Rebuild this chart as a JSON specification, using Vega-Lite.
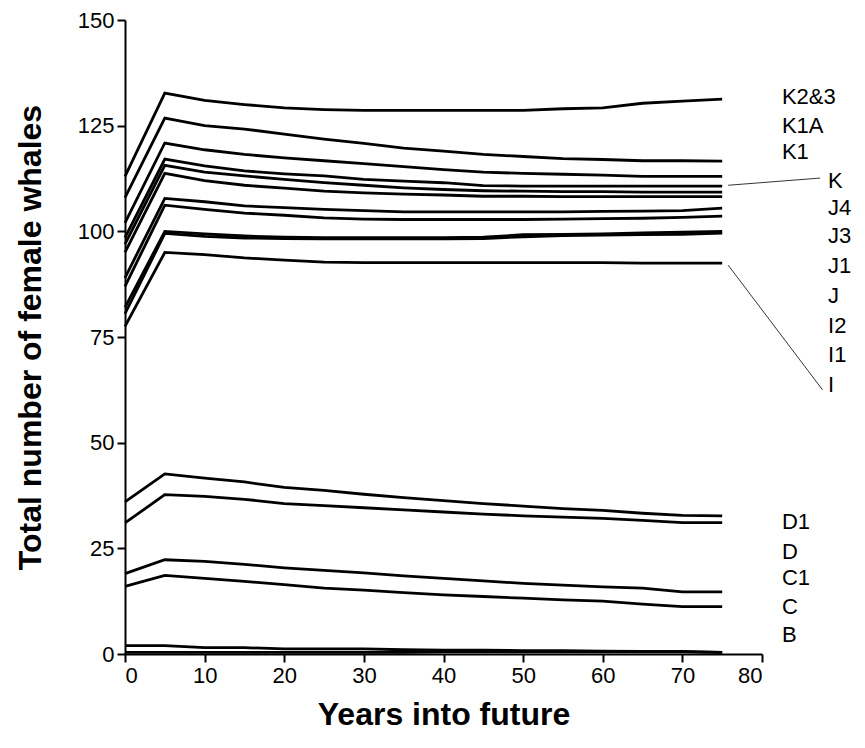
{
"$schema":"https://vega.github.io/schema/vega-lite/v6.json",
"width":637,"height":634,
"autosize":{"type":"none"},
"padding":{"left":125,"top":20,"right":103,"bottom":94},
"background":"white",
"config":{"view":{"stroke":null},
"axis":{"grid":false,"domainColor":"black","domainWidth":2,"tickColor":"black","tickWidth":2,"tickSize":8,"labelColor":"black","labelFont":"Liberation Sans","labelFontSize":22,"labelPadding":3,"titleFont":"Liberation Sans","titleFontWeight":"bold","titleFontSize":32,"titleColor":"black"}},
"datasets":{
"series":[
{"s":"K2&3","t":0,"v":113},{"s":"K2&3","t":5,"v":132.7},{"s":"K2&3","t":10,"v":131},{"s":"K2&3","t":15,"v":130},{"s":"K2&3","t":20,"v":129.2},{"s":"K2&3","t":25,"v":128.8},{"s":"K2&3","t":30,"v":128.6},{"s":"K2&3","t":35,"v":128.6},{"s":"K2&3","t":40,"v":128.6},{"s":"K2&3","t":45,"v":128.6},{"s":"K2&3","t":50,"v":128.6},{"s":"K2&3","t":55,"v":129},{"s":"K2&3","t":60,"v":129.2},{"s":"K2&3","t":65,"v":130.3},{"s":"K2&3","t":70,"v":130.8},{"s":"K2&3","t":75,"v":131.3},
{"s":"K1A","t":0,"v":108},{"s":"K1A","t":5,"v":126.8},{"s":"K1A","t":10,"v":125},{"s":"K1A","t":15,"v":124.2},{"s":"K1A","t":20,"v":123},{"s":"K1A","t":25,"v":121.8},{"s":"K1A","t":30,"v":120.8},{"s":"K1A","t":35,"v":119.7},{"s":"K1A","t":40,"v":119},{"s":"K1A","t":45,"v":118.2},{"s":"K1A","t":50,"v":117.7},{"s":"K1A","t":55,"v":117.2},{"s":"K1A","t":60,"v":117},{"s":"K1A","t":65,"v":116.7},{"s":"K1A","t":70,"v":116.7},{"s":"K1A","t":75,"v":116.6},
{"s":"K1","t":0,"v":102},{"s":"K1","t":5,"v":120.9},{"s":"K1","t":10,"v":119.3},{"s":"K1","t":15,"v":118.2},{"s":"K1","t":20,"v":117.4},{"s":"K1","t":25,"v":116.7},{"s":"K1","t":30,"v":116},{"s":"K1","t":35,"v":115.3},{"s":"K1","t":40,"v":114.6},{"s":"K1","t":45,"v":114},{"s":"K1","t":50,"v":113.7},{"s":"K1","t":55,"v":113.5},{"s":"K1","t":60,"v":113.3},{"s":"K1","t":65,"v":113},{"s":"K1","t":70,"v":113},{"s":"K1","t":75,"v":113},
{"s":"K","t":0,"v":98.5},{"s":"K","t":5,"v":117.1},{"s":"K","t":10,"v":115.5},{"s":"K","t":15,"v":114.3},{"s":"K","t":20,"v":113.6},{"s":"K","t":25,"v":113.1},{"s":"K","t":30,"v":112.3},{"s":"K","t":35,"v":111.9},{"s":"K","t":40,"v":111.5},{"s":"K","t":45,"v":110.8},{"s":"K","t":50,"v":110.7},{"s":"K","t":55,"v":110.7},{"s":"K","t":60,"v":110.7},{"s":"K","t":65,"v":110.7},{"s":"K","t":70,"v":110.7},{"s":"K","t":75,"v":110.7},
{"s":"J4","t":0,"v":97},{"s":"J4","t":5,"v":115.6},{"s":"J4","t":10,"v":114},{"s":"J4","t":15,"v":113.1},{"s":"J4","t":20,"v":112.3},{"s":"J4","t":25,"v":111.5},{"s":"J4","t":30,"v":110.9},{"s":"J4","t":35,"v":110.3},{"s":"J4","t":40,"v":109.9},{"s":"J4","t":45,"v":109.6},{"s":"J4","t":50,"v":109.5},{"s":"J4","t":55,"v":109.4},{"s":"J4","t":60,"v":109.4},{"s":"J4","t":65,"v":109.3},{"s":"J4","t":70,"v":109.3},{"s":"J4","t":75,"v":109.3},
{"s":"J3","t":0,"v":95},{"s":"J3","t":5,"v":113.7},{"s":"J3","t":10,"v":112},{"s":"J3","t":15,"v":110.9},{"s":"J3","t":20,"v":110.2},{"s":"J3","t":25,"v":109.5},{"s":"J3","t":30,"v":109.1},{"s":"J3","t":35,"v":108.8},{"s":"J3","t":40,"v":108.6},{"s":"J3","t":45,"v":108.3},{"s":"J3","t":50,"v":108.3},{"s":"J3","t":55,"v":108.2},{"s":"J3","t":60,"v":108.2},{"s":"J3","t":65,"v":108.2},{"s":"J3","t":70,"v":108.2},{"s":"J3","t":75,"v":108.2},
{"s":"J1","t":0,"v":89},{"s":"J1","t":5,"v":107.8},{"s":"J1","t":10,"v":107},{"s":"J1","t":15,"v":106},{"s":"J1","t":20,"v":105.6},{"s":"J1","t":25,"v":105.2},{"s":"J1","t":30,"v":104.9},{"s":"J1","t":35,"v":104.6},{"s":"J1","t":40,"v":104.6},{"s":"J1","t":45,"v":104.6},{"s":"J1","t":50,"v":104.6},{"s":"J1","t":55,"v":104.6},{"s":"J1","t":60,"v":104.7},{"s":"J1","t":65,"v":104.8},{"s":"J1","t":70,"v":104.9},{"s":"J1","t":75,"v":105.5},
{"s":"J","t":0,"v":87},{"s":"J","t":5,"v":106.2},{"s":"J","t":10,"v":105.2},{"s":"J","t":15,"v":104.3},{"s":"J","t":20,"v":103.8},{"s":"J","t":25,"v":103.2},{"s":"J","t":30,"v":102.9},{"s":"J","t":35,"v":102.8},{"s":"J","t":40,"v":102.8},{"s":"J","t":45,"v":102.8},{"s":"J","t":50,"v":102.8},{"s":"J","t":55,"v":102.9},{"s":"J","t":60,"v":103},{"s":"J","t":65,"v":103.1},{"s":"J","t":70,"v":103.3},{"s":"J","t":75,"v":103.6},
{"s":"I2","t":0,"v":82},{"s":"I2","t":5,"v":100},{"s":"I2","t":10,"v":99.4},{"s":"I2","t":15,"v":98.9},{"s":"I2","t":20,"v":98.6},{"s":"I2","t":25,"v":98.5},{"s":"I2","t":30,"v":98.5},{"s":"I2","t":35,"v":98.5},{"s":"I2","t":40,"v":98.5},{"s":"I2","t":45,"v":98.6},{"s":"I2","t":50,"v":99.2},{"s":"I2","t":55,"v":99.3},{"s":"I2","t":60,"v":99.4},{"s":"I2","t":65,"v":99.6},{"s":"I2","t":70,"v":99.8},{"s":"I2","t":75,"v":100},
{"s":"I1","t":0,"v":80.5},{"s":"I1","t":5,"v":99.5},{"s":"I1","t":10,"v":98.8},{"s":"I1","t":15,"v":98.4},{"s":"I1","t":20,"v":98.3},{"s":"I1","t":25,"v":98.2},{"s":"I1","t":30,"v":98.2},{"s":"I1","t":35,"v":98.2},{"s":"I1","t":40,"v":98.2},{"s":"I1","t":45,"v":98.3},{"s":"I1","t":50,"v":98.7},{"s":"I1","t":55,"v":99},{"s":"I1","t":60,"v":99.1},{"s":"I1","t":65,"v":99.2},{"s":"I1","t":70,"v":99.3},{"s":"I1","t":75,"v":99.6},
{"s":"I","t":0,"v":77.5},{"s":"I","t":5,"v":95},{"s":"I","t":10,"v":94.5},{"s":"I","t":15,"v":93.7},{"s":"I","t":20,"v":93.2},{"s":"I","t":25,"v":92.7},{"s":"I","t":30,"v":92.6},{"s":"I","t":35,"v":92.6},{"s":"I","t":40,"v":92.6},{"s":"I","t":45,"v":92.6},{"s":"I","t":50,"v":92.6},{"s":"I","t":55,"v":92.6},{"s":"I","t":60,"v":92.6},{"s":"I","t":65,"v":92.5},{"s":"I","t":70,"v":92.5},{"s":"I","t":75,"v":92.5},
{"s":"D1","t":0,"v":36},{"s":"D1","t":5,"v":42.6},{"s":"D1","t":10,"v":41.6},{"s":"D1","t":15,"v":40.7},{"s":"D1","t":20,"v":39.4},{"s":"D1","t":25,"v":38.7},{"s":"D1","t":30,"v":37.8},{"s":"D1","t":35,"v":37},{"s":"D1","t":40,"v":36.3},{"s":"D1","t":45,"v":35.6},{"s":"D1","t":50,"v":35},{"s":"D1","t":55,"v":34.4},{"s":"D1","t":60,"v":34},{"s":"D1","t":65,"v":33.3},{"s":"D1","t":70,"v":32.8},{"s":"D1","t":75,"v":32.7},
{"s":"D","t":0,"v":31},{"s":"D","t":5,"v":37.7},{"s":"D","t":10,"v":37.3},{"s":"D","t":15,"v":36.6},{"s":"D","t":20,"v":35.6},{"s":"D","t":25,"v":35.1},{"s":"D","t":30,"v":34.6},{"s":"D","t":35,"v":34.1},{"s":"D","t":40,"v":33.6},{"s":"D","t":45,"v":33.1},{"s":"D","t":50,"v":32.7},{"s":"D","t":55,"v":32.4},{"s":"D","t":60,"v":32.1},{"s":"D","t":65,"v":31.6},{"s":"D","t":70,"v":31.1},{"s":"D","t":75,"v":31.1},
{"s":"C1","t":0,"v":19},{"s":"C1","t":5,"v":22.3},{"s":"C1","t":10,"v":21.9},{"s":"C1","t":15,"v":21.2},{"s":"C1","t":20,"v":20.4},{"s":"C1","t":25,"v":19.8},{"s":"C1","t":30,"v":19.2},{"s":"C1","t":35,"v":18.5},{"s":"C1","t":40,"v":17.9},{"s":"C1","t":45,"v":17.3},{"s":"C1","t":50,"v":16.7},{"s":"C1","t":55,"v":16.3},{"s":"C1","t":60,"v":15.9},{"s":"C1","t":65,"v":15.6},{"s":"C1","t":70,"v":14.7},{"s":"C1","t":75,"v":14.7},
{"s":"C","t":0,"v":16},{"s":"C","t":5,"v":18.6},{"s":"C","t":10,"v":17.9},{"s":"C","t":15,"v":17.2},{"s":"C","t":20,"v":16.4},{"s":"C","t":25,"v":15.6},{"s":"C","t":30,"v":15.1},{"s":"C","t":35,"v":14.5},{"s":"C","t":40,"v":14},{"s":"C","t":45,"v":13.6},{"s":"C","t":50,"v":13.2},{"s":"C","t":55,"v":12.8},{"s":"C","t":60,"v":12.5},{"s":"C","t":65,"v":11.8},{"s":"C","t":70,"v":11.2},{"s":"C","t":75,"v":11.2},
{"s":"B","t":0,"v":2},{"s":"B","t":5,"v":2},{"s":"B","t":10,"v":1.5},{"s":"B","t":15,"v":1.5},{"s":"B","t":20,"v":1.2},{"s":"B","t":25,"v":1.2},{"s":"B","t":30,"v":1.2},{"s":"B","t":35,"v":1},{"s":"B","t":40,"v":0.9},{"s":"B","t":45,"v":0.9},{"s":"B","t":50,"v":0.8},{"s":"B","t":55,"v":0.8},{"s":"B","t":60,"v":0.7},{"s":"B","t":65,"v":0.6},{"s":"B","t":70,"v":0.6},{"s":"B","t":75,"v":0.4},
{"s":"B0","t":0,"v":0.4},{"s":"B0","t":5,"v":0.4},{"s":"B0","t":10,"v":0.4},{"s":"B0","t":15,"v":0.4},{"s":"B0","t":20,"v":0.4},{"s":"B0","t":25,"v":0.4},{"s":"B0","t":30,"v":0.4},{"s":"B0","t":35,"v":0.4},{"s":"B0","t":40,"v":0.5},{"s":"B0","t":45,"v":0.5},{"s":"B0","t":50,"v":0.5},{"s":"B0","t":55,"v":0.5},{"s":"B0","t":60,"v":0.5},{"s":"B0","t":65,"v":0.5},{"s":"B0","t":70,"v":0.5},{"s":"B0","t":75,"v":0.4}
],
"labels":[
{"label":"K2&3","t":82.5,"v":131.8},{"label":"K1A","t":82.5,"v":124.9},{"label":"K1","t":82.5,"v":118.7},
{"label":"K","t":88.3,"v":112},{"label":"J4","t":88.3,"v":105.5},{"label":"J3","t":88.3,"v":98.8},{"label":"J1","t":88.3,"v":91.7},{"label":"J","t":88.3,"v":84.6},{"label":"I2","t":88.3,"v":77.7},{"label":"I1","t":88.3,"v":70.8},{"label":"I","t":88.3,"v":63.7},
{"label":"D1","t":82.5,"v":31.3},{"label":"D","t":82.5,"v":24.2},{"label":"C1","t":82.5,"v":18},{"label":"C","t":82.5,"v":11.1},{"label":"B","t":82.5,"v":4.5}
],
"leaders":[
{"id":"K","t":75.75,"v":110.9},{"id":"K","t":87.3,"v":112.6},
{"id":"I","t":75.75,"v":92},{"id":"I","t":87.6,"v":62.5}
]},
"layer":[
{"data":{"name":"series"},"mark":{"type":"line","color":"black","strokeWidth":2.8},
"encoding":{
"x":{"field":"t","type":"quantitative","scale":{"domain":[0,80],"nice":false},"axis":{"values":[0,10,20,30,40,50,60,70,80],"title":"Years into future","titlePadding":13}},
"y":{"field":"v","type":"quantitative","scale":{"domain":[0,150],"nice":false},"axis":{"values":[0,25,50,75,100,125,150],"title":"Total number of female whales","titlePadding":30}},
"detail":{"field":"s","type":"nominal"}}},
{"data":{"name":"leaders"},"mark":{"type":"line","color":"black","strokeWidth":0.8,"clip":false},
"encoding":{"x":{"field":"t","type":"quantitative"},"y":{"field":"v","type":"quantitative"},"detail":{"field":"id","type":"nominal"}}},
{"data":{"name":"labels"},"mark":{"type":"text","align":"left","baseline":"middle","font":"Liberation Sans","fontSize":22,"color":"black"},
"encoding":{"x":{"field":"t","type":"quantitative"},"y":{"field":"v","type":"quantitative"},"text":{"field":"label","type":"nominal"}}}
]
}
